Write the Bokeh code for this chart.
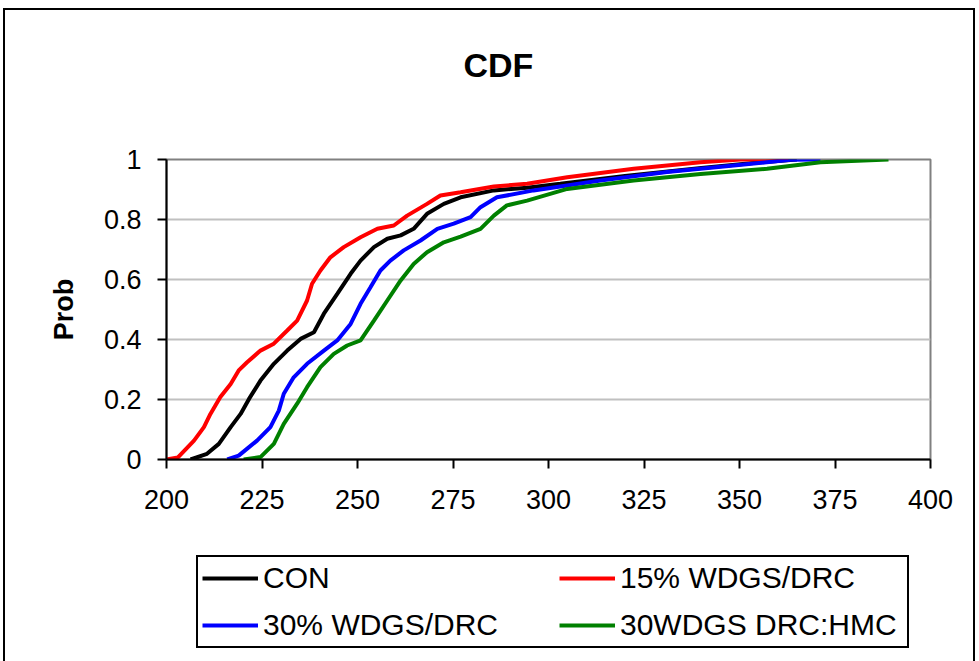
from bokeh.plotting import figure
from bokeh.layouts import column
from bokeh.models import FixedTicker, Legend, LegendItem, Range1d
from bokeh.embed import file_html
from bokeh.resources import INLINE

# ---- data ----
con_x = [206.3, 210.6, 213.7, 216.8, 219.4, 221.6, 224.6, 228.1, 231.6, 235.1, 238.6, 241.2, 244.7,
         248.2, 250.8, 254.3, 257.8, 261.3, 264.7, 268.2, 272.6, 277.0, 285.7, 294.4, 303.1, 320.0,
         340.0, 355.0, 365.0]
con_y = [0.0, 0.019, 0.052, 0.108, 0.152, 0.202, 0.263, 0.319, 0.363, 0.402, 0.424, 0.486, 0.552,
         0.619, 0.663, 0.708, 0.736, 0.747, 0.769, 0.819, 0.852, 0.874, 0.897, 0.906, 0.919, 0.945,
         0.972, 0.99, 1.0]

w15_x = [200.0, 203.0, 207.2, 209.8, 211.5, 214.1, 216.8, 218.9, 221.1, 224.6, 228.1, 231.6, 234.2,
         236.8, 238.1, 240.3, 242.9, 246.4, 250.8, 255.2, 259.5, 263.0, 268.2, 271.7, 277.0, 285.7,
         294.4, 304.9, 322.3, 339.8, 350.3, 362.8]
w15_y = [0.0, 0.007, 0.063, 0.108, 0.152, 0.208, 0.252, 0.297, 0.324, 0.363, 0.386, 0.43, 0.463,
         0.53, 0.586, 0.63, 0.674, 0.708, 0.741, 0.769, 0.78, 0.813, 0.852, 0.88, 0.891, 0.91,
         0.919, 0.941, 0.969, 0.991, 1.0, 1.0]

w30_x = [215.9, 218.9, 223.7, 227.2, 229.4, 230.7, 233.3, 236.8, 241.2, 244.7, 248.2, 250.8, 253.4,
         256.0, 258.6, 262.1, 266.5, 270.9, 275.2, 279.6, 282.2, 286.5, 296.1, 313.6, 331.0, 348.5,
         363.4, 371.2]
w30_y = [0.0, 0.013, 0.063, 0.108, 0.163, 0.219, 0.274, 0.319, 0.363, 0.397, 0.452, 0.519, 0.574,
         0.63, 0.663, 0.697, 0.73, 0.769, 0.786, 0.808, 0.841, 0.874, 0.897, 0.93, 0.958, 0.98,
         0.999, 1.0]

hmc_x = [220.2, 224.6, 228.1, 230.7, 234.2, 236.8, 240.3, 243.8, 247.3, 250.8, 254.3, 257.8, 261.3,
         264.7, 268.2, 272.6, 277.0, 282.2, 285.7, 289.1, 294.4, 304.9, 322.3, 339.8, 357.2, 371.2,
         389.0]
hmc_y = [0.0, 0.008, 0.052, 0.119, 0.186, 0.241, 0.308, 0.352, 0.38, 0.397, 0.463, 0.53, 0.597,
         0.652, 0.691, 0.724, 0.743, 0.769, 0.813, 0.847, 0.863, 0.902, 0.93, 0.952, 0.969, 0.991,
         1.0]

series_names = ["CON", "15% WDGS/DRC", "30% WDGS/DRC", "30WDGS DRC:HMC"]
series_colors = ["#000000", "#FF0000", "#0000FF", "#008000"]

x_ticks = [200, 225, 250, 275, 300, 325, 350, 375, 400]
y_ticks = [0, 0.2, 0.4, 0.6, 0.8, 1]
y_tick_labels = ["0", "0.2", "0.4", "0.6", "0.8", "1"]

FONT = "Liberation Sans"
xs = [con_x, w15_x, w30_x, hmc_x]
ys = [con_y, w15_y, w30_y, hmc_y]

W = 972
LEFT, RIGHT = 161, 47


def strip(height, **kw):
    f = figure(width=W, height=height, output_backend="svg", toolbar_location=None,
               x_axis_location=None, y_axis_location=None,
               min_border_left=LEFT, min_border_right=RIGHT,
               min_border_top=0, min_border_bottom=0, **kw)
    f.outline_line_color = None
    f.grid.visible = False
    f.background_fill_color = "white"
    f.border_fill_color = "white"
    return f


# ---------------- title strip ----------------
t = strip(131, x_range=Range1d(0, 1), y_range=Range1d(0, 1))
t.styles = {"border-left": "2px solid black", "border-top": "2px solid black",
            "border-right": "2px solid black"}
t.title.text = "CDF"
t.title.align = "left"
t.title.vertical_align = "top"
t.title.text_font = FONT
t.title.text_font_size = "34px"
t.title.text_font_style = "bold"
t.title.text_color = "#000000"
t.title.offset = 297
t.title.standoff = 71

# ---------------- main chart ----------------
p = figure(width=W, height=400, output_backend="svg", toolbar_location=None, title=None,
           x_range=Range1d(200, 400), y_range=Range1d(0, 1),
           min_border_left=LEFT, min_border_right=RIGHT, min_border_top=20, min_border_bottom=80)
p.styles = {"border-left": "2px solid black", "border-right": "2px solid black"}

p.background_fill_color = "white"
p.border_fill_color = "white"
p.outline_line_color = "#808080"
p.outline_line_width = 2

p.xgrid.grid_line_color = None
p.ygrid.grid_line_color = "#C0C0C0"
p.ygrid.grid_line_width = 2

p.xaxis.ticker = FixedTicker(ticks=x_ticks)
p.yaxis.ticker = FixedTicker(ticks=y_ticks)
p.yaxis.major_label_overrides = {t_: s for t_, s in zip(y_ticks, y_tick_labels)}

for ax in (p.xaxis[0], p.yaxis[0]):
    ax.axis_line_color = "#000000"
    ax.axis_line_width = 2
    ax.major_tick_line_color = "#000000"
    ax.major_tick_line_width = 2
    ax.major_tick_in = 0
    ax.major_tick_out = 9
    ax.minor_tick_line_color = None
    ax.major_label_text_font = FONT
    ax.major_label_text_font_size = "27px"
    ax.major_label_text_color = "#000000"
p.xaxis.major_label_standoff = 21
p.yaxis.major_label_standoff = 16

p.yaxis.axis_label = "Prob"
p.yaxis.axis_label_text_font = FONT
p.yaxis.axis_label_text_font_size = "27px"
p.yaxis.axis_label_text_font_style = "bold"
p.yaxis.axis_label_text_color = "#000000"
p.yaxis.axis_label_standoff = 22

for x, y, c in zip(xs, ys, series_colors):
    p.line(x, y, line_color=c, line_width=4)

# ---------------- legend strip (same series, drawn outside its view) ----------------
q = strip(122, x_range=Range1d(0, 1), y_range=Range1d(0, 1), title=None)
q.styles = {"border-left": "2px solid black", "border-right": "2px solid black"}

items = []
for x, y, c, n in zip(xs, ys, series_colors, series_names):
    r = q.line(x, y, line_color=c, line_width=4)
    items.append(LegendItem(label=n, renderers=[r]))

legend = Legend(items=items, orientation="horizontal", ncols=2, location=(30, 13),
                label_text_font=FONT, label_text_font_size="30px", label_text_color="#000000",
                glyph_width=56, glyph_height=30, label_height=30, label_width=283,
                label_standoff=5, spacing=13, padding=4, margin=0,
                border_line_color="#000000", border_line_width=2, border_line_alpha=1.0,
                background_fill_color="white", background_fill_alpha=1.0)
q.add_layout(legend, "center")

layout = column(t, p, q, spacing=0)
layout.styles = {"margin-left": "3px", "margin-top": "8px"}

open("out.html", "w").write(file_html(layout, INLINE))
